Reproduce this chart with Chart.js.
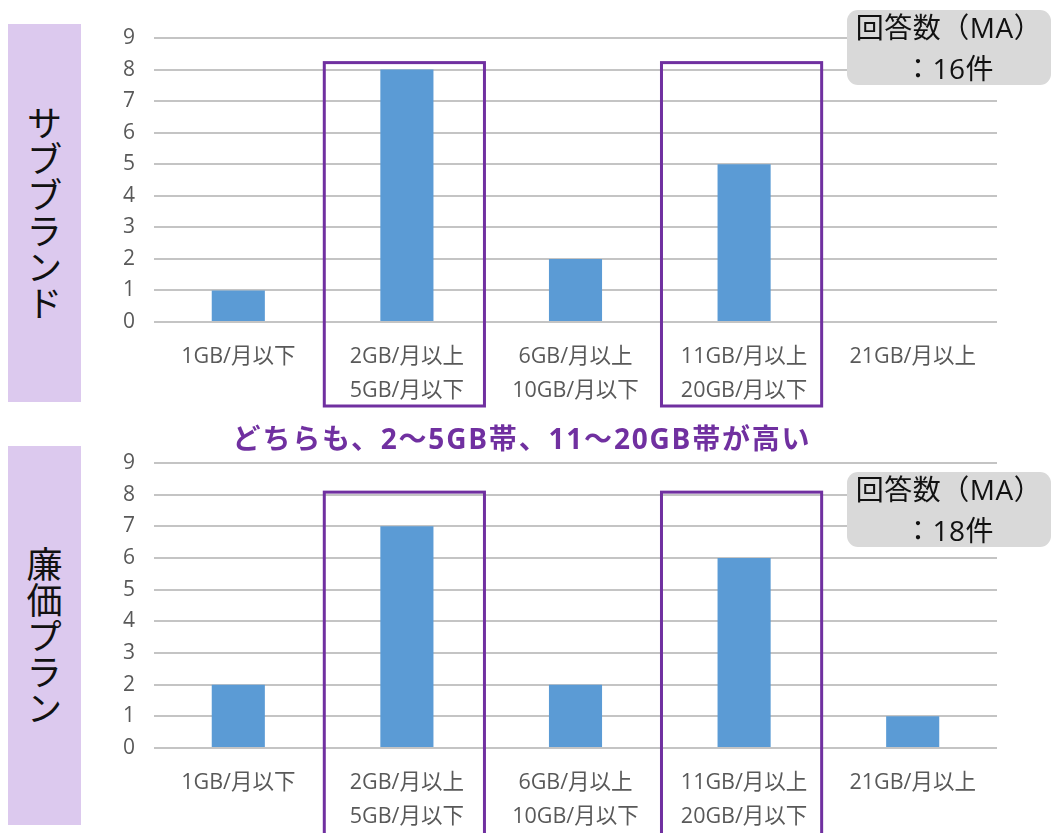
<!DOCTYPE html>
<html>
<head>
<meta charset="utf-8">
<script src="https://cdn.jsdelivr.net/npm/chart.js@4.4.1/dist/chart.umd.min.js"></script>
<style>
  body { margin: 0; width: 1052px; height: 833px; background: #fff; position: relative; overflow: hidden;
         font-family: 'Open Sans', 'Noto Sans CJK JP', sans-serif; }
  .wrap { position: absolute; left: 0; width: 1052px; }
  .side { position: absolute; left: 8px; width: 73px; background: #dcc9ee; display: flex;
          align-items: center; justify-content: center; }
  .side span { writing-mode: vertical-rl; font-family: 'Noto Sans CJK JP', sans-serif; font-size: 36px; color: #111; }
  .count { position: absolute; left: 847px; width: 204px; height: 75px; background: #d9d9d9;
           border-radius: 11px; text-align: center; font-size: 28px; line-height: 41px; color: #111;
           letter-spacing: 0.5px; }
  .count span { position: relative; top: -3px; }
  .title { position: absolute; left: 0; width: 1052px; top: 417px; text-align: center; padding-right: 8px;
           box-sizing: border-box; font-size: 28px; font-weight: bold; color: #7030a0; letter-spacing: 1.8px; }
</style>
</head>
<body>
<div class="wrap" style="top:0;height:420px"><canvas id="subChart"></canvas></div>
<div class="wrap" style="top:425px;height:408px"><canvas id="cheapChart"></canvas></div>

<div class="side" style="top:24px;height:378px"><span>サブブランド</span></div>
<div class="side" style="top:446px;height:379px"><span>廉価プラン</span></div>
<div class="count" style="top:10px"><span>回答数（MA）<br>：16件</span></div>
<div class="count" style="top:472px"><span>回答数（MA）<br>：18件</span></div>
<div class="title">どちらも、2～5GB帯、11～20GB帯が高い</div>

<script>
const categories = [
  ['1GB/月以下'],
  ['2GB/月以上', '5GB/月以下'],
  ['6GB/月以上', '10GB/月以下'],
  ['11GB/月以上', '20GB/月以下'],
  ['21GB/月以上']
];
const subBrandValues = [1, 8, 2, 5, 0];
const cheapPlanValues = [2, 7, 2, 6, 1];
const yMax = 9;
const highlighted = [1, 3];

Chart.defaults.font.family = "'Open Sans', 'Noto Sans CJK JP', sans-serif";

// purple frames around the highlighted categories
const framePlugin = {
  id: 'frames',
  afterDatasetsDraw(chart, args, opts) {
    const { ctx, scales: { x, y }, chartArea } = chart;
    const cw = (chartArea.right - chartArea.left) / categories.length;
    const top = y.getPixelForValue(opts.topValue);
    const bottom = chartArea.bottom + opts.below;
    ctx.save();
    ctx.strokeStyle = '#7030a0';
    ctx.lineWidth = 3;
    highlighted.forEach(i => {
      const c = x.getPixelForValue(i);
      const left = c - cw * 0.49;
      const right = c + cw * 0.46;
      ctx.strokeRect(left, top, right - left, bottom - top);
    });
    ctx.restore();
  }
};

function makeChart(id, values, axisHeight, topValue, below) {
  return new Chart(document.getElementById(id), {
    type: 'bar',
    data: {
      labels: categories,
      datasets: [{
        data: values,
        backgroundColor: '#5b9bd5',
        categoryPercentage: 1,
        barPercentage: 0.315
      }]
    },
    options: {
      responsive: true,
      maintainAspectRatio: false,
      animation: false,
      layout: { padding: { top: 38, left: 94, right: 55, bottom: 0 } },
      plugins: {
        legend: { display: false },
        tooltip: { enabled: false },
        frames: { topValue, below }
      },
      scales: {
        x: {
          grid: { display: false },
          border: { display: false },
          ticks: { color: '#595959', font: { size: 21.5, lineHeight: 1.57 }, padding: 10, maxRotation: 0, autoSkip: false },
          afterFit: s => { s.height = axisHeight; }
        },
        y: {
          min: 0,
          max: yMax,
          grid: { color: '#c4c4c4', lineWidth: 2, drawTicks: false },
          border: { display: false },
          ticks: { stepSize: 1, color: '#595959', font: { size: 21 }, padding: 19 },
          afterFit: s => { s.width = 60; }
        }
      }
    },
    plugins: [framePlugin]
  });
}

makeChart('subChart', subBrandValues, 98, 8.22, 84);
makeChart('cheapChart', cheapPlanValues, 85, 8.08, 120);
</script>
</body>
</html>
